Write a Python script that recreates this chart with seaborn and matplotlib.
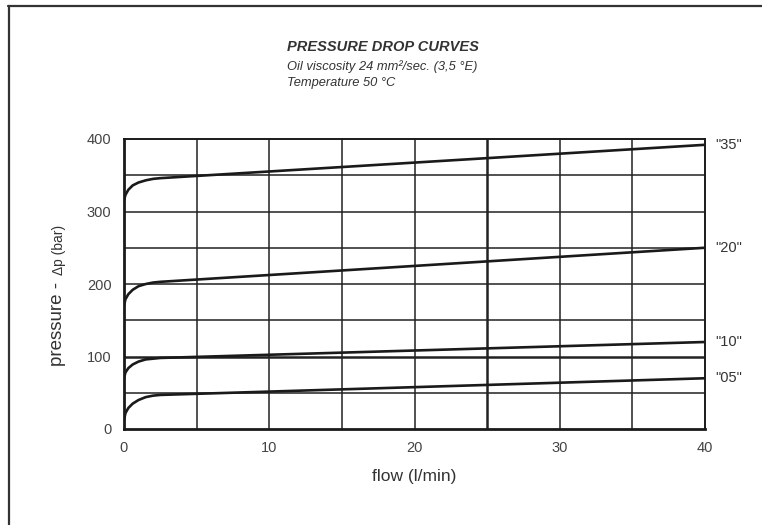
import pandas as pd
import seaborn as sns
import matplotlib.pyplot as plt
from matplotlib.lines import Line2D

# flow points (l/min), knee near 2 l/min
flow = [0, 0.1, 0.3, 0.6, 1.0, 1.5, 2.0, 2.5, 40]
p35 = [315, 323, 330, 336, 340, 343, 345, 346, 392]
p20 = [170, 179, 186, 192, 197, 200, 202, 203, 250]
p10 = [70, 78, 84, 89, 93, 96, 97, 98, 120]
p05 = [12, 22, 29, 35, 40, 44, 46, 47, 70]
labels = ['"35"', '"20"', '"10"', '"05"']
series = [p35, p20, p10, p05]

rows = []
for lab, vals in zip(labels, series):
    for f, p in zip(flow, vals):
        rows.append({"flow": f, "pressure": p, "curve": lab})
df = pd.DataFrame(rows)

sns.set_style("white")
plt.rcParams["font.family"] = ["Liberation Sans", "DejaVu Sans"]

fig = plt.figure(figsize=(7.62, 5.25), dpi=100)
ax = fig.add_axes([124 / 762, 96 / 525, 581 / 762, 290 / 525])

sns.lineplot(data=df, x="flow", y="pressure", units="curve", estimator=None,
             color="#1a1a1a", linewidth=1.9, sort=False, ax=ax)

ax.set_xlim(0, 40)
ax.set_ylim(0, 400)
for v in range(5, 40, 5):
    ax.axvline(v, color="#222222", lw=1.8 if v == 25 else 1.1, zorder=0)
for h in range(50, 400, 50):
    ax.axhline(h, color="#222222", lw=1.8 if h == 100 else 1.1, zorder=0)

ax.set_xticks(range(0, 41, 10))
ax.set_yticks(range(0, 401, 100))
ax.tick_params(axis="both", direction="out", length=7, width=1.2,
               color="#222222", labelcolor="#444444", labelsize=10.5, pad=2)
for s in ax.spines.values():
    s.set_color("#1a1a1a")
    s.set_linewidth(1.4)
ax.spines["left"].set_linewidth(2)
ax.spines["bottom"].set_linewidth(2)

ax.set_xlabel("flow (l/min)", fontsize=12.5, color="#333333", labelpad=10)
ax.set_ylabel("")

# right-hand curve names at the end values
for lab, vals in zip(labels, series):
    ax.text(40.7, vals[-1], lab, fontsize=10.5, color="#333333",
            va="center", ha="left", clip_on=False)

# y label in two pieces
fig.text(57 / 762, 1 - 366 / 525, "pressure - ", rotation=90, fontsize=13.5,
         color="#333333", ha="center", va="bottom")
fig.text(59 / 762, 1 - 275 / 525, "Δp (bar)", rotation=90, fontsize=10,
         color="#333333", ha="center", va="bottom")

# titles
fig.text(287 / 762, 1 - 47 / 525, "PRESSURE DROP CURVES", fontsize=10.5,
         fontweight="bold", fontstyle="italic", color="#333333", va="center")
fig.text(287 / 762, 1 - 67 / 525, "Oil viscosity 24 mm²/sec. (3,5 °E)",
         fontsize=9.3, fontstyle="italic", color="#333333", va="center")
fig.text(287 / 762, 1 - 83 / 525, "Temperature 50 °C",
         fontsize=9.3, fontstyle="italic", color="#333333", va="center")

# frame lines at top and left of the sheet
fig.add_artist(Line2D([8 / 762, 1], [1 - 6 / 525, 1 - 6 / 525],
                      transform=fig.transFigure, color="#333333", lw=1.6))
fig.add_artist(Line2D([9 / 762, 9 / 762], [0, 1 - 6 / 525],
                      transform=fig.transFigure, color="#333333", lw=1.6))

fig.savefig("out.png", dpi=100)
